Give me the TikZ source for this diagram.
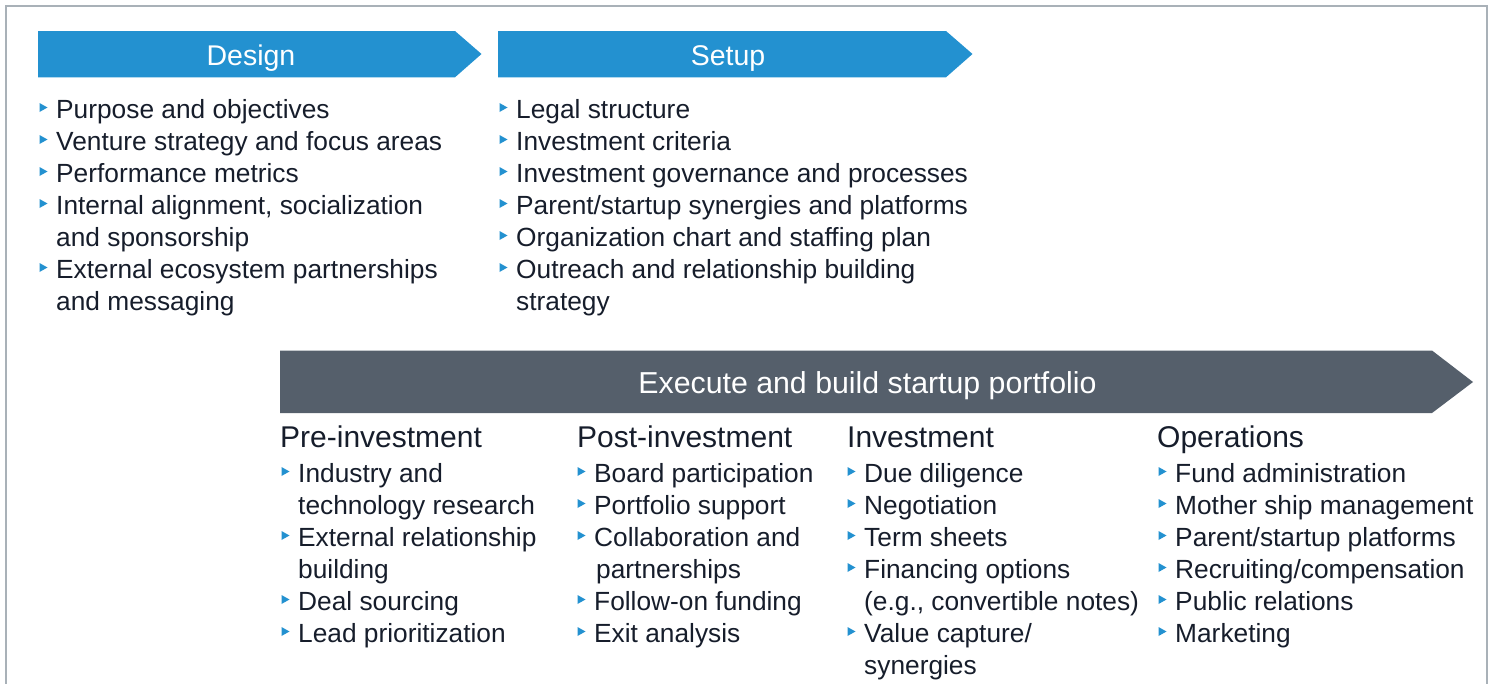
\documentclass[tikz,border=0pt]{standalone}
\usepackage{fontspec}
\setmainfont{Liberation Sans}
\definecolor{bluec}{HTML}{2391D0}
\definecolor{darkc}{HTML}{555F6B}
\definecolor{textc}{HTML}{161D2B}
\definecolor{borderc}{HTML}{A9B1B8}
\tikzset{
  txt/.style={anchor=base west, inner sep=0pt, text=textc, font=\fontsize{26.3}{32}\selectfont},
  head/.style={anchor=base west, inner sep=0pt, text=textc, font=\fontsize{30}{36}\selectfont},
  bartxt/.style={anchor=base, inner sep=0pt, text=white, font=\fontsize{28.5}{34}\selectfont},
  bulletmark/.style={fill=bluec},
}
\newcommand\bitem[4]{%
  \fill[bulletmark] (#2-16.5,#3-15) -- (#2-8.5,#3-10.5) -- (#2-16.5,#3-6) -- cycle;
  \node[txt] (#1) at (#2,#3) {#4};}
\newcommand\citem[4]{\node[txt] (#1) at (#2,#3) {#4};}
\begin{document}
\begin{tikzpicture}[x=1pt,y=-1pt]
\useasboundingbox (0,0) rectangle (1494,683);
% frame
\draw[borderc, line width=2pt] (6,684) -- (6,6) -- (1487,6) -- (1487,684);
% bars
\fill[bluec] (38,31) -- (455,31) -- (481.5,54) -- (455,77.3) -- (38,77.3) -- cycle;
\fill[bluec] (498,31) -- (946,31) -- (972.5,54) -- (946,77.3) -- (498,77.3) -- cycle;
\fill[darkc] (280,350.5) -- (1432,350.5) -- (1473,382) -- (1432,413) -- (280,413) -- cycle;
\node[bartxt] (design) at (251,65.5) {Design};
\node[bartxt] (setup) at (728,65.5) {Setup};
\node[bartxt, font=\fontsize{30.3}{36}\selectfont] (execute) at (867.5,393.5) {Execute and build startup portfolio};
% Design list
\bitem{d1}{56}{118}{Purpose and objectives}
\bitem{d2}{56}{150}{Venture strategy and focus areas}
\bitem{d3}{56}{182}{Performance metrics}
\bitem{d4}{56}{214}{Internal alignment, socialization}
\citem{d4b}{56}{246}{and sponsorship}
\bitem{d5}{56}{278}{External ecosystem partnerships}
\citem{d5b}{56}{310}{and messaging}
% Setup list
\bitem{s1}{516}{118}{Legal structure}
\bitem{s2}{516}{150}{Investment criteria}
\bitem{s3}{516}{182}{Investment governance and processes}
\bitem{s4}{516}{214}{Parent/startup synergies and platforms}
\bitem{s5}{516}{246}{Organization chart and staffing plan}
\bitem{s6}{516}{278}{Outreach and relationship building}
\citem{s6b}{516}{310}{strategy}
% headings
\node[head] (pre) at (280,447.5) {Pre-investment};
\node[head] (post) at (577,447.5) {Post-investment};
\node[head] (inv) at (847,447.5) {Investment};
\node[head] (ops) at (1157,447.5) {Operations};
% Pre-investment
\bitem{p1}{298}{482}{Industry and}
\citem{p1b}{298}{514}{technology research}
\bitem{p2}{298}{546}{External relationship}
\citem{p2b}{298}{578}{building}
\bitem{p3}{298}{610}{Deal sourcing}
\bitem{p4}{298}{642}{Lead prioritization}
% Post-investment
\bitem{q1}{594}{482}{Board participation}
\bitem{q2}{594}{514}{Portfolio support}
\bitem{q3}{594}{546}{Collaboration and}
\citem{q3b}{596}{578}{partnerships}
\bitem{q4}{594}{610}{Follow-on funding}
\bitem{q5}{594}{642}{Exit analysis}
% Investment
\bitem{i1}{864}{482}{Due diligence}
\bitem{i2}{864}{514}{Negotiation}
\bitem{i3}{864}{546}{Term sheets}
\bitem{i4}{864}{578}{Financing options}
\citem{i4b}{864}{610}{(e.g., convertible notes)}
\bitem{i5}{864}{642}{Value capture/}
\citem{i5b}{864}{674}{synergies}
% Operations
\bitem{o1}{1175}{482}{Fund administration}
\bitem{o2}{1175}{514}{Mother ship management}
\bitem{o3}{1175}{546}{Parent/startup platforms}
\bitem{o4}{1175}{578}{Recruiting/compensation}
\bitem{o5}{1175}{610}{Public relations}
\bitem{o6}{1175}{642}{Marketing}
\end{tikzpicture}
\end{document}
